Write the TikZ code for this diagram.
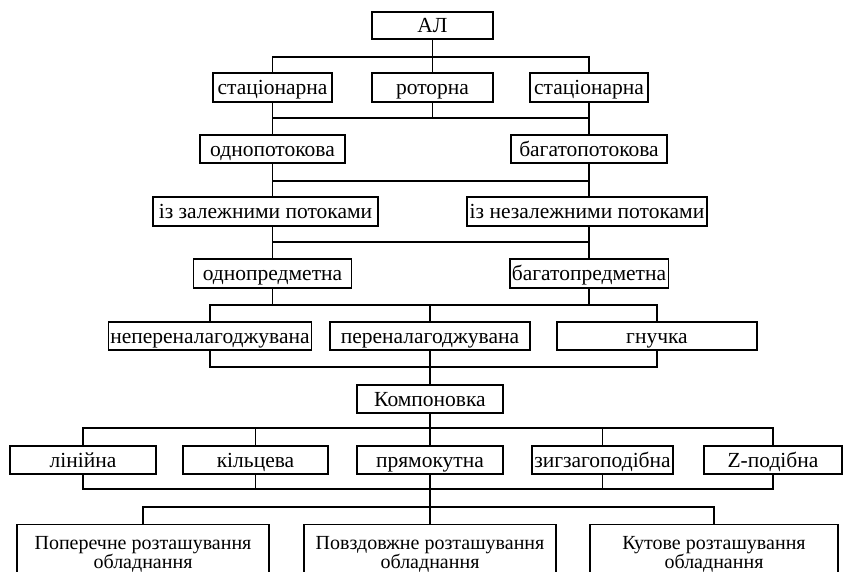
\documentclass[tikz,border=0pt]{standalone}
\usepackage{fontspec}
\setmainfont{Liberation Serif}

\begin{document}
\begin{tikzpicture}[x=1pt,y=-1pt,line width=1.2pt,
	blk/.style={draw,minimum height=29pt,inner sep=2pt,
		text height=17pt,text depth=2pt,
		font=\fontsize{21.5}{22}\selectfont},
	w/.style={minimum width=#1pt},
	tall/.style={anchor=north,align=center,text height=,text depth=,
		inner ysep=3pt,minimum height=60pt,
		font=\fontsize{20}{19}\selectfont}]
	\useasboundingbox (0,0) rectangle (844,572);

	\node[blk,w=121,minimum height=27pt] (al) at (432.5,25.5) {АЛ};

	\node[blk,w=119] (st1) at (272.5,87.5) {стаціонарна};
	\node[blk,w=121] (rot) at (432.5,87.5) {роторна};
	\node[blk,w=118] (st2) at (589,87.5) {стаціонарна};

	\node[blk,w=145,minimum height=28pt] (odn) at (272.5,149) {однопотокова};
	\node[blk,w=156,minimum height=28pt] (bag) at (589,149) {багатопотокова};

	\node[blk,w=225] (zl) at (265.5,211.5) {із залежними потоками};
	\node[blk,w=240] (nzl) at (587,211.5) {із незалежними потоками};

	\node[blk,w=158] (odp) at (272.5,273.5) {однопредметна};
	\node[blk,w=155] (bgp) at (589,273.5) {багатопредметна};

	\node[blk,w=200,minimum height=28pt] (nep) at (210,336) {непереналагоджувана};
	\node[blk,w=200,minimum height=28pt] (per) at (430,336) {переналагоджувана};
	\node[blk,w=200,minimum height=28pt] (gn) at (657,336) {гнучка};

	\node[blk,w=146,minimum height=28pt] (komp) at (430,399) {Компоновка};

	\node[blk,w=146,minimum height=28pt] (lin) at (83,460) {лінійна};
	\node[blk,w=145,minimum height=28pt] (kil) at (255.5,460) {кільцева};
	\node[blk,w=146,minimum height=28pt] (pr) at (430,460) {прямокутна};
	\node[blk,w=141,minimum height=28pt] (zz) at (602.5,460) {зигзагоподібна};
	\node[blk,w=138,minimum height=28pt] (zp) at (773,460) {Z-подібна};

	\node[blk,tall,w=252] (pop) at (143,524)
		{Поперечне розташування\\обладнання};
	\node[blk,tall,w=252] (pov) at (430,524)
		{Повздовжне розташування\\обладнання};
	\node[blk,tall,w=248] (kut) at (714,524)
		{Кутове розташування\\обладнання};

	% buses
	\coordinate (b1l) at (272.5,57);   \coordinate (b1r) at (589,57);
	\coordinate (b2l) at (272.5,118);  \coordinate (b2r) at (589,118);
	\coordinate (b3l) at (272.5,181);  \coordinate (b3r) at (589,181);
	\coordinate (b4l) at (272.5,242);  \coordinate (b4r) at (589,242);
	\coordinate (b5l) at (210,305);    \coordinate (b5r) at (657,305);
	\coordinate (b6l) at (210,367);    \coordinate (b6r) at (657,367);
	\coordinate (b7l) at (83,428);     \coordinate (b7r) at (773,428);
	\coordinate (b8l) at (83,489);     \coordinate (b8r) at (773,489);
	\coordinate (b9l) at (143,507);    \coordinate (b9r) at (714,507);

	\draw (al.south) -- (rot.north);
	\draw (st1.north) -- (b1l) -- (b1r) -- (st2.north);

	\draw (st1.south) -- (odn.north);
	\draw (st2.south) -- (bag.north);
	\draw (b2l) -- (b2r);
	\draw (rot.south) -- (rot.south |- b2l);

	\draw (odn.south) -- (zl.north -| odn.south);
	\draw (bag.south) -- (nzl.north -| bag.south);
	\draw (b3l) -- (b3r);

	\draw (zl.south -| odp.north) -- (odp.north);
	\draw (nzl.south -| bgp.north) -- (bgp.north);
	\draw (b4l) -- (b4r);

	\draw (odp.south) -- (odp.south |- b5l);
	\draw (bgp.south) -- (bgp.south |- b5l);
	\draw (nep.north) -- (b5l) -- (b5r) -- (gn.north);
	\draw (per.north |- b5l) -- (per.north);

	\draw (nep.south) -- (b6l) -- (b6r) -- (gn.south);
	\draw (per.south) -- (komp.north);

	\draw (komp.south) -- (pr.north);
	\draw (lin.north) -- (b7l) -- (b7r) -- (zp.north);
	\draw (kil.north) -- (kil.north |- b7l);
	\draw (zz.north) -- (zz.north |- b7l);

	\draw (lin.south) -- (b8l) -- (b8r) -- (zp.south);
	\draw (kil.south) -- (kil.south |- b8l);
	\draw (zz.south) -- (zz.south |- b8l);
	\draw (pr.south) -- (pov.north);
	\draw (pop.north) -- (b9l) -- (b9r) -- (kut.north);
\end{tikzpicture}
\end{document}
